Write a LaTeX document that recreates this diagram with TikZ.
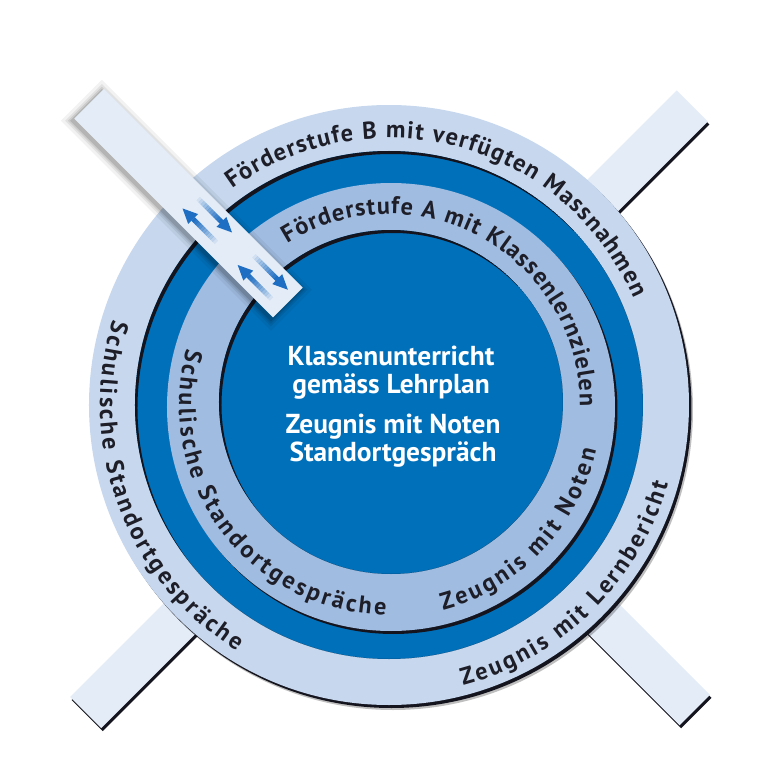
\documentclass[tikz,border=0pt]{standalone}
\usepackage{fontspec}
\setmainfont{PT Sans}
\usetikzlibrary{decorations.text}
\definecolor{kbblue}{RGB}{0,112,186}
\definecolor{kblight}{RGB}{198,215,238}
\definecolor{kbmid}{RGB}{160,188,225}
\definecolor{kbbar}{RGB}{228,236,247}
\definecolor{kbarrow}{RGB}{30,110,195}
\definecolor{kbtext}{RGB}{30,30,40}
\definecolor{kbshadow}{RGB}{20,20,30}
\newcommand{\ringfont}{\fontsize{13.8}{15}\selectfont\bfseries}
\tikzstyle{ringtext} = [decorate, decoration={text along path, text align=fit to path, text color=kbtext}]
\tikzstyle{centertext} = [text=white, font=\fontsize{15.6}{17}\selectfont\bfseries, anchor=base, inner sep=0pt]

\begin{document}
\begin{tikzpicture}[x=0.02cm, y=0.02cm]
\useasboundingbox (-389,-353) rectangle (386,405);

% bars behind the circle
\begin{scope}[shift={(1.5,-3)}, rotate=45]
  \fill[kbshadow] (-432,-25) rectangle (426,19);
\end{scope}
\begin{scope}[rotate=45]
  \fill[kbbar] (-432,-25) rectangle (426,19);
\end{scope}
\begin{scope}[shift={(1.5,-3)}, rotate=-45]
  \fill[kbshadow] (0,-21) rectangle (432,22);
\end{scope}
\begin{scope}[rotate=-45]
  \fill[kbbar] (0,-21) rectangle (432,22);
\end{scope}

% outer ring
\fill[black, opacity=0.25] (4,-5) circle (300);
\fill[kbshadow] (2.5,-3) circle (300);
\fill[kblight] (0,0) circle (300);
\fill[kbblue] (0,0) circle (254);
\begin{scope}
  \clip (0,0) circle (254);
  \fill[kbshadow, even odd rule] (0,0) circle (254) (2.5,-3) circle (254);
\end{scope}

% inner ring
\fill[kbshadow] (4.5,-5) circle (224);
\fill[kbmid] (2,-2) circle (224);
\fill[kbblue] (2,3) circle (172);
\begin{scope}
  \clip (2,3) circle (172);
  \fill[kbshadow, even odd rule] (2,3) circle (172) (4.5,0) circle (172);
\end{scope}

% texts on the outer ring
\path[ringtext, decoration={text={|\ringfont|Förderstufe B mit verfügten Massnahmen}}] (126:267) arc (126:23.6:267);
\path[ringtext, decoration={text={|\ringfont|Schulische Standortgespräche}}] (162.8:289) arc (162.8:238.2:289);
\path[ringtext, decoration={text={|\ringfont|Zeugnis mit Lernbericht}}] (-75.2:290) arc (-75.2:-15.8:290);

% texts on the inner ring
\path[ringtext, decoration={text={|\ringfont|Förderstufe A mit Klassenlernzielen}}] (122.2:191) arc (122.2:-0.4:191);
\path[ringtext, decoration={text={|\ringfont|Schulische Standortgespräche}}] (164.3:210) arc (164.3:269.2:210);
\path[ringtext, decoration={text={|\ringfont|Zeugnis mit Noten}}] (-75.2:212) arc (-75.2:-12.3:212);

% centre
\node (unterricht) [centertext] at (2,40) {Klassenunterricht};
\node (lehrplan) [centertext] at (2,12) {gemäss Lehrplan};
\node (zeugnis) [centertext] at (4,-28) {Zeugnis mit Noten};
\node (gespraech) [centertext] at (4,-56) {Standortgespräch};

% bar in front with the arrows
\begin{scope}[rotate=-45]
  \foreach \s/\o in {8/0.05, 5/0.07, 3/0.09, 1.5/0.12}
    \fill[black, opacity=\o] (-425-\s,-23-\s) rectangle (-144+\s,19+\s);
  \fill[kbbar] (-425,-20) rectangle (-144,22);
  \foreach \tip/\off/\dir in {-285/-7/-1, -233/11/1, -206/-8/-1, -153/10/1} {
    \foreach \k in {0,...,10}
      \fill[kbarrow, opacity=(\k+1)/11] ({\tip-\dir*(48-3*\k)},\off-2.5) rectangle ++({\dir*3.2},5);
    \fill[kbarrow] (\tip,\off) -- ({\tip-\dir*15},\off+7) -- ({\tip-\dir*15},\off-7) -- cycle;
  }
\end{scope}
\end{tikzpicture}
\end{document}
